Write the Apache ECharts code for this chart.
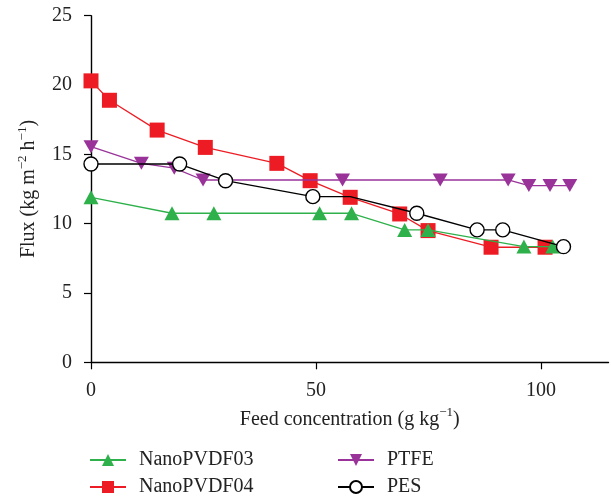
<!DOCTYPE html>
<html><head><meta charset="utf-8">
<script src="https://cdn.jsdelivr.net/npm/echarts@6/dist/echarts.min.js"></script>
<style>html,body{margin:0;padding:0;background:#fff}#c{width:611px;height:498px}</style>
</head><body><div id="c"></div>
<script>
// Data
const pvdf03X = [0, 18.0, 27.3, 50.8, 57.9, 69.7, 74.9, 96.2, 102.6];
const pvdf03Y = [11.9, 10.75, 10.75, 10.75, 10.75, 9.55, 9.55, 8.35, 8.35];
const pvdf04X = [0, 4.1, 14.7, 25.4, 41.3, 48.7, 57.6, 68.6, 74.9, 88.9, 100.9];
const pvdf04Y = [20.3, 18.9, 16.75, 15.5, 14.35, 13.1, 11.9, 10.7, 9.5, 8.3, 8.3];
const ptfeX = [0, 11.2, 18.5, 24.9, 55.9, 77.6, 92.7, 97.3, 102.0, 106.4];
const ptfeY = [15.55, 14.35, 14.0, 13.15, 13.15, 13.15, 13.15, 12.75, 12.75, 12.75];
const pesX = [0, 19.7, 29.9, 49.3, 57.6, 72.4, 85.8, 91.5, 105.0];
const pesY = [14.3, 14.3, 13.1, 11.95, 11.95, 10.75, 9.55, 9.55, 8.34];
const pesHidden = [4]; // vertex without a visible marker (under the red square)
const yTicks = [0, 5, 10, 15, 20, 25];
const xTicks = [0, 50, 100];
const seriesNames = ['NanoPVDF03', 'NanoPVDF04', 'PTFE', 'PES'];

const font = 'Liberation Serif';
const zip = (xs, ys) => xs.map((x, i) => [x, ys[i]]);
const GREEN = '#2eb14b', RED = '#ed1c24', PURPLE = '#993399', BLACK = '#000';
const TXT = '#222';
const rich = {t: {fontFamily: font, fontSize: 20, color: TXT, lineHeight: 26, verticalAlign: 'middle'},
              sup: {fontFamily: font, fontSize: 13, color: TXT, lineHeight: 12, verticalAlign: 'top'}};

const chart = echarts.init(document.getElementById('c'), null, {renderer: 'canvas'});
const legendPos = [[89, 450], [89, 477], [337, 450], [337, 477]];
const legends = seriesNames.map((n, i) => ({
  left: legendPos[i][0], top: legendPos[i][1], data: [n], orient: 'vertical',
  itemWidth: 36, itemHeight: 15, padding: 0,
  textStyle: {fontFamily: font, fontSize: 20, color: TXT, padding: [0, 0, 0, 8]},
  selectedMode: false
}));
chart.setOption({
  animation: false,
  grid: {left: 91, right: 2.5, top: 15.7, bottom: 135.7},
  legend: legends,
  xAxis: {
    type: 'value', min: 0, max: 115, interval: 50,
    name: '{t|Feed concentration (g kg}{sup|−1}{t|)}', nameLocation: 'middle', nameGap: 44,
    nameTextStyle: {fontFamily: font, fontSize: 20, color: TXT, rich},
    axisLine: {lineStyle: {color: '#000', width: 1.4}},
    axisTick: {show: true, length: 7, lineStyle: {color: '#000', width: 1.2}},
    axisLabel: {fontFamily: font, fontSize: 20, color: TXT, margin: 18, showMaxLabel: false,
      formatter: v => xTicks.includes(v) ? String(v) : ''},
    splitLine: {show: false}
  },
  yAxis: {
    type: 'value', min: 0, max: 25, interval: 5,
    name: '{t|Flux (kg m}{sup|−2}{t| h}{sup|−1}{t|)}', nameLocation: 'middle', nameGap: 49,
    nameTextStyle: {fontFamily: font, fontSize: 20, color: TXT, rich},
    axisLine: {show: true, lineStyle: {color: '#000', width: 1.4}},
    axisTick: {show: true, length: 7, lineStyle: {color: '#000', width: 1.2}},
    axisLabel: {fontFamily: font, fontSize: 20, color: TXT, margin: 19,
      formatter: v => yTicks.includes(v) ? String(v) : ''},
    splitLine: {show: false}
  },
  series: [
    {name: 'NanoPVDF04', type: 'line', z: 2, data: zip(pvdf04X, pvdf04Y),
      symbol: 'rect', symbolSize: 15, lineStyle: {color: RED, width: 1.3},
      itemStyle: {color: RED, borderWidth: 0}},
    {name: 'PTFE', type: 'line', z: 3, data: zip(ptfeX, ptfeY),
      symbol: 'triangle', symbolRotate: 180, symbolSize: [15, 13], lineStyle: {color: PURPLE, width: 1.3},
      itemStyle: {color: PURPLE, borderWidth: 0}},
    {name: 'NanoPVDF03', type: 'line', z: 4, data: zip(pvdf03X, pvdf03Y),
      symbol: 'triangle', symbolSize: [15, 14], lineStyle: {color: GREEN, width: 1.3},
      itemStyle: {color: GREEN, borderWidth: 0}},
    {name: 'PES', type: 'line', z: 5,
      data: zip(pesX, pesY).map((p, i) => pesHidden.includes(i) ? {value: p, symbol: 'none'} : p),
      symbol: 'circle', symbolSize: 14, showAllSymbol: true, lineStyle: {color: BLACK, width: 1.4},
      itemStyle: {color: '#fff', borderColor: BLACK, borderWidth: 1.4}}
  ]
});
</script></body></html>
